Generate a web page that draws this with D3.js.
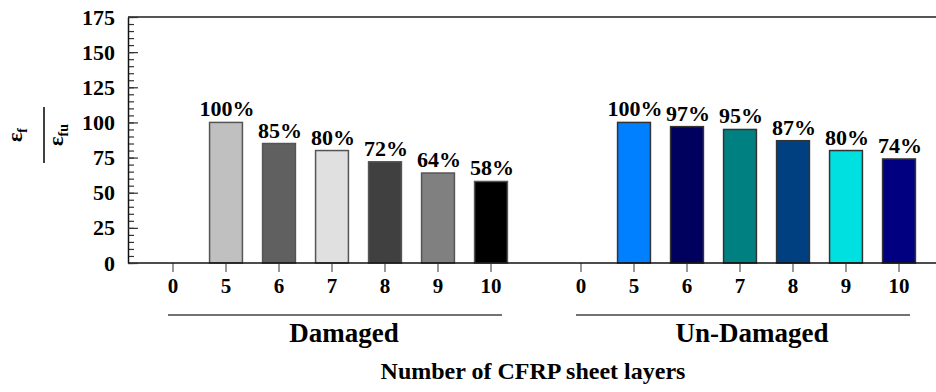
<!DOCTYPE html>
<html>
<head>
<meta charset="utf-8">
<script src="https://cdn.jsdelivr.net/npm/d3@7"></script>
<style>
  html, body { margin: 0; padding: 0; background: #fff; }
  svg { display: block; }
  text { font-family: "Liberation Serif", "Times New Roman", serif; font-weight: bold; fill: #000; }
</style>
</head>
<body>
<svg id="chart" width="936" height="392"></svg>
<script>
// Strain ratio (εf / εfu, %) by number of CFRP sheet layers
const groups = ["Damaged", "Un-Damaged"];
const layers = ["0", "5", "6", "7", "8", "9", "10"];
const damagedValues = [0, 100, 85, 80, 72, 64, 58];
const undamagedValues = [0, 100, 97, 95, 87, 80, 74];
const damagedColors = ["#c0c0c0", "#c0c0c0", "#606060", "#e0e0e0", "#404040", "#808080", "#000000"];
const undamagedColors = ["#0080ff", "#0080ff", "#00005e", "#008080", "#004080", "#00e0e0", "#000080"];
const yTicks = [0, 25, 50, 75, 100, 125, 150, 175];
const yMinorTicks = d3.range(0, 176, 5);
const xTitle = "Number of CFRP sheet layers";

const svg = d3.select("#chart");
const plot = { left: 128, top: 17, bottom: 263, right: 936 };

const y = d3.scaleLinear().domain([0, 175]).range([plot.bottom, plot.top]);

const x0 = d3.scaleBand().domain(groups).range([146.5, 925.5]).paddingInner(0.0907).paddingOuter(0);
const x1 = d3.scaleBand().domain(layers).range([0, x0.bandwidth()]).paddingInner(0.38).paddingOuter(0.19);

const series = [
  { group: "Damaged", values: damagedValues, colors: damagedColors, stroke: "#555" },
  { group: "Un-Damaged", values: undamagedValues, colors: undamagedColors, stroke: "#333" }
];

// top border of the plot area
svg.append("line").attr("x1", plot.left).attr("x2", plot.right)
  .attr("y1", plot.top).attr("y2", plot.top)
  .attr("stroke", "#555").attr("stroke-width", 2);

// bars, value labels and category axes, one block per group
series.forEach(s => {
  const g = svg.append("g").attr("transform", `translate(${x0(s.group)},0)`);
  const rows = layers.map((l, i) => ({ layer: l, value: s.values[i], color: s.colors[i] }))
    .filter(d => d.value > 0);
  g.selectAll("rect").data(rows).join("rect")
    .attr("x", d => x1(d.layer))
    .attr("y", d => y(d.value))
    .attr("width", x1.bandwidth())
    .attr("height", d => y(0) - y(d.value))
    .attr("fill", d => d.color)
    .attr("stroke", s.stroke)
    .attr("stroke-width", 1.5);
  g.selectAll("text.val").data(rows).join("text")
    .attr("class", "val")
    .attr("x", d => x1(d.layer) + x1.bandwidth() / 2 + 1)
    .attr("y", d => y(d.value) - 6)
    .attr("text-anchor", "middle")
    .style("font-size", "22px")
    .text(d => d.value + "%");

  const ax = g.append("g").attr("transform", `translate(0,${plot.bottom})`)
    .call(d3.axisBottom(x1).tickSize(9).tickPadding(6).tickSizeOuter(0));
  ax.select(".domain").remove();
  ax.selectAll(".tick line").attr("stroke", "#777").attr("stroke-width", 1.5);
  ax.selectAll(".tick text").style("font-size", "21px")
    .style("font-family", "'Liberation Serif', serif").style("font-weight", "bold");

  // group underline and name
  const first = x1(layers[0]) + x1.bandwidth() / 2;
  const last = x1(layers[layers.length - 1]) + x1.bandwidth() / 2;
  g.append("line").attr("x1", first - 5).attr("x2", last + 11)
    .attr("y1", 315).attr("y2", 315)
    .attr("stroke", "#444").attr("stroke-width", 1.5);
  g.append("text")
    .attr("x", (first + last) / 2 + 12)
    .attr("y", 342)
    .attr("text-anchor", "middle")
    .style("font-size", "27px")
    .text(s.group);
});

// x baseline
svg.append("line").attr("x1", plot.left).attr("x2", plot.right)
  .attr("y1", plot.bottom).attr("y2", plot.bottom)
  .attr("stroke", "#111").attr("stroke-width", 1.5);

// y axis: minor ticks
const yMinor = svg.append("g").attr("transform", `translate(${plot.left},0)`)
  .call(d3.axisLeft(y).tickValues(yMinorTicks).tickSize(-6).tickFormat(""));
yMinor.select(".domain").remove();
yMinor.selectAll(".tick line").attr("stroke", "#333").attr("stroke-width", 1.2);

// y axis: major ticks and labels
const yAx = svg.append("g").attr("transform", `translate(${plot.left},0)`)
  .call(d3.axisLeft(y).tickValues(yTicks).tickSize(-10).tickSizeOuter(0).tickPadding(13));
yAx.select(".domain").attr("stroke", "#111").attr("stroke-width", 1.5);
yAx.selectAll(".tick line").attr("stroke", "#333").attr("stroke-width", 1.2);
yAx.selectAll(".tick text").style("font-size", "22px")
  .style("font-family", "'Liberation Serif', serif").style("font-weight", "bold");

// y title: εf over εfu, rotated
const yt = svg.append("g").attr("transform", "translate(34,135) rotate(-90)");
const num = yt.append("text").attr("x", 0).attr("y", -12).attr("text-anchor", "middle")
  .style("font-size", "22px");
num.append("tspan").text("ε");
num.append("tspan").attr("dy", 5).style("font-size", "14px").text("f");
yt.append("line").attr("x1", -28).attr("x2", 28).attr("y1", 10).attr("y2", 10)
  .attr("stroke", "#000").attr("stroke-width", 1.5);
const den = yt.append("text").attr("x", 0).attr("y", 29).attr("text-anchor", "middle")
  .style("font-size", "22px");
den.append("tspan").text("ε");
den.append("tspan").attr("dy", 5).style("font-size", "14px").text("fu");

// x title, centred under the plot area
svg.append("text")
  .attr("x", 533)
  .attr("y", 379)
  .attr("text-anchor", "middle")
  .style("font-size", "24px")
  .text(xTitle);
</script>
</body>
</html>
